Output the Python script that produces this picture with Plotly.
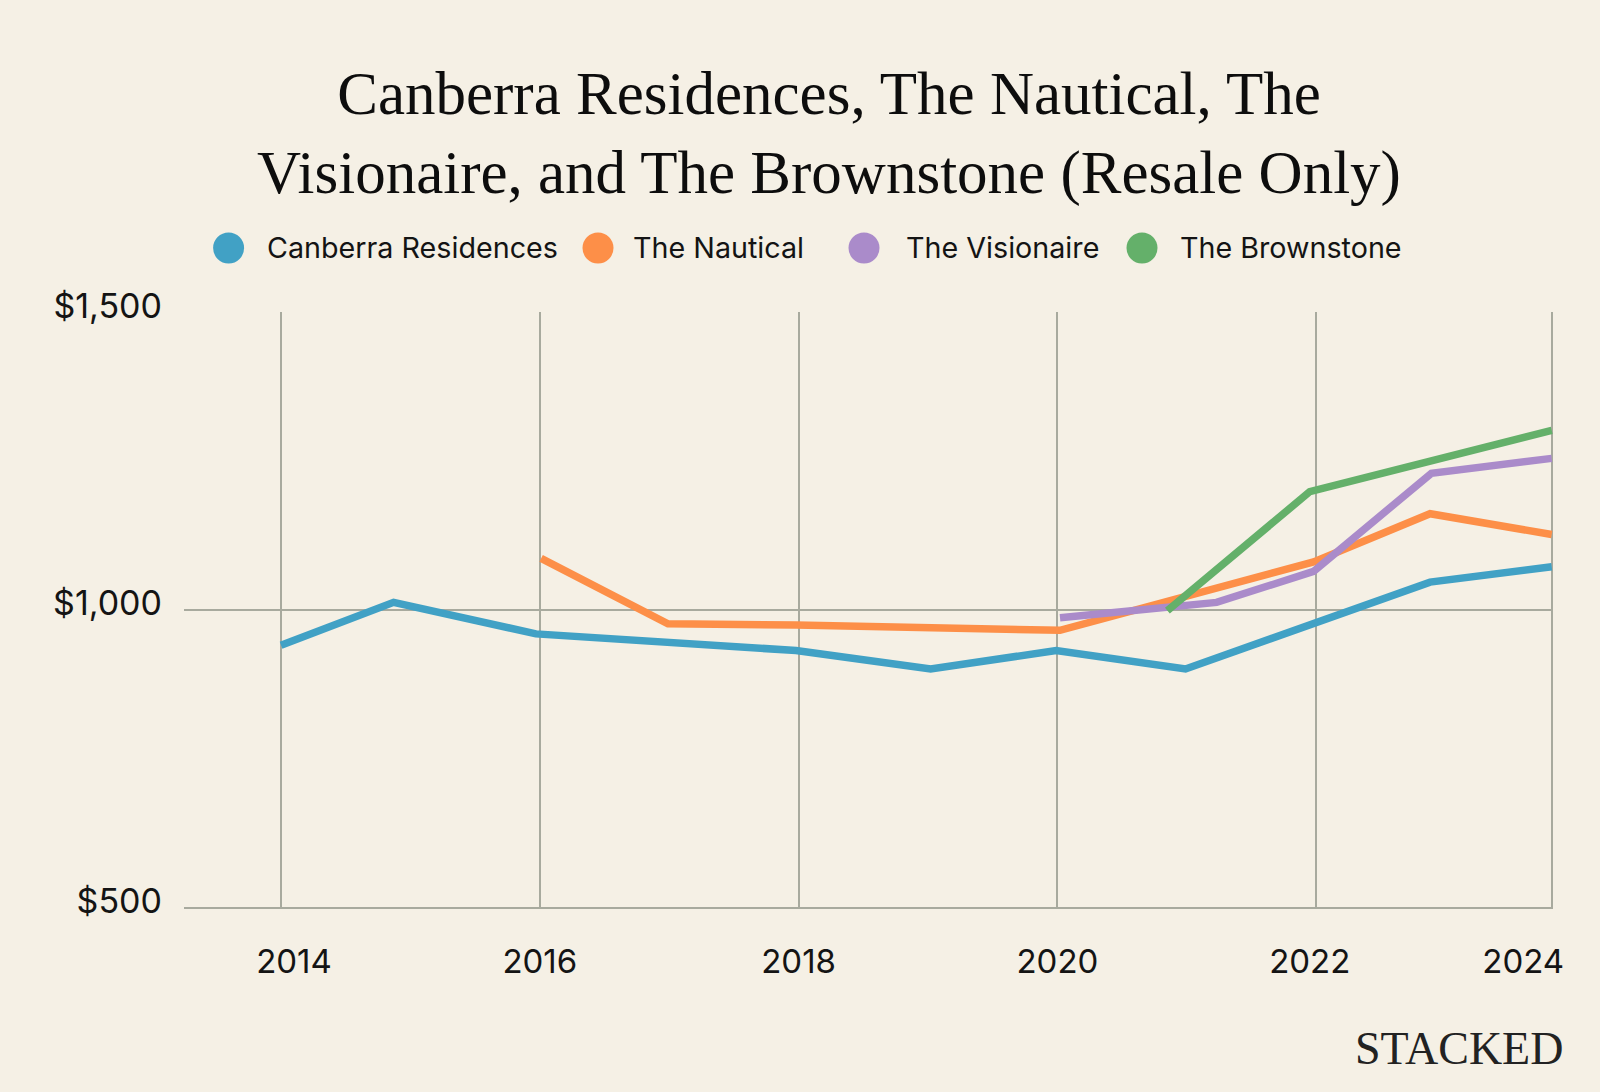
import plotly.graph_objects as go

# ---------------- data ----------------
SERIES = ["Canberra Residences", "The Nautical", "The Visionaire", "The Brownstone"]
COLORS = ["#41a1c5", "#fd8f48", "#aa8bca", "#64b06a"]

canberra_x = [2014.00, 2014.87, 2015.97, 2016.97, 2017.98, 2019.02, 2019.99, 2020.99, 2021.98, 2022.88, 2023.82]
canberra_y = [940, 1012, 959, 945, 931, 900, 931, 900, 976, 1046, 1072]

nautical_x = [2016.01, 2016.99, 2017.98, 2020.02, 2021.98, 2022.88, 2023.82]
nautical_y = [1086, 976, 974, 965, 1080, 1161, 1126]

visionaire_x = [2020.02, 2021.23, 2021.98, 2022.89, 2023.82]
visionaire_y = [986, 1012, 1064, 1229, 1254]

brownstone_x = [2020.85, 2021.95, 2023.82]
brownstone_y = [998, 1198, 1301]

X_GRID = [2014, 2016, 2018, 2020, 2022, 2023.82]
X_TICK_POS = [2014.1, 2016, 2018, 2020, 2021.95, 2023.6]
X_TICK_TEXT = ["2014", "2016", "2018", "2020", "2022", "2024"]
Y_TICKS = [500, 1000, 1500]
Y_TICK_TEXT = ["$500", "$1,000", "$1,500"]

TITLE = "Canberra Residences, The Nautical, The<br>Visionaire, and The Brownstone (Resale Only)"

# ---------------- layout constants ----------------
W, H = 1600, 1092
L, R, T, B = 184, 1553, 312, 907
BG = "#f5f0e5"
GRID = "#a8aa9e"
TXT = "#141414"
SANS = "Inter, Noto Sans, sans-serif"
SERIF = "Liberation Serif, DejaVu Serif, serif"


def px(xp):
    return (xp - L) / (R - L)


def py(yp):
    return (B - yp) / (B - T)


fig = go.Figure()
xs = [canberra_x, nautical_x, visionaire_x, brownstone_x]
ys = [canberra_y, nautical_y, visionaire_y, brownstone_y]
for name, c, x, y in zip(SERIES, COLORS, xs, ys):
    fig.add_trace(go.Scatter(x=x, y=y, name=name, mode="lines",
                             line=dict(color=c, width=7.5), showlegend=False,
                             hoverinfo="x+y+name"))

# manual legend (large circular markers)
legend_circle_px = [228.6, 598, 864, 1142]
legend_text_px = [265, 631, 904, 1178]
legend_y_px = 248
shapes = []
annotations = []
for name, c, cx, tx in zip(SERIES, COLORS, legend_circle_px, legend_text_px):
    shapes.append(dict(type="circle", xref="paper", yref="paper",
                       xsizemode="pixel", ysizemode="pixel",
                       xanchor=px(cx), yanchor=py(legend_y_px),
                       x0=-15.5, x1=15.5, y0=-15.5, y1=15.5,
                       fillcolor=c, line=dict(width=0)))
    annotations.append(dict(text=name, xref="paper", yref="paper",
                            x=px(tx), y=py(legend_y_px), xanchor="left", yanchor="middle",
                            showarrow=False, font=dict(family=SANS, size=28.7, color=TXT)))

annotations.append(dict(text="STACKED", xref="paper", yref="paper",
                        x=px(1565), y=py(1048), xanchor="right", yanchor="middle",
                        showarrow=False, font=dict(family=SERIF, size=46, color="#222222")))

fig.update_layout(
    width=W, height=H,
    margin=dict(l=L, r=W - R, t=T, b=H - B, pad=0),
    paper_bgcolor=BG, plot_bgcolor=BG,
    title=dict(text=TITLE, x=829 / W, xanchor="center", xref="container",
               y=1 - 114 / H, yanchor="top", yref="container",
               font=dict(family=SERIF, size=61, color="#0d0d0d")),
    showlegend=False,
    shapes=shapes,
    annotations=annotations,
    xaxis=dict(range=[2013.25, 2023.83], showgrid=False, zeroline=False,
               tickmode="array", tickvals=X_TICK_POS, ticktext=X_TICK_TEXT,
               ticks="", ticklabelstandoff=24,
               tickfont=dict(family=SANS, size=33, color=TXT),
               showline=True, linecolor=GRID, linewidth=2,
               minor=dict(tickmode="array", tickvals=X_GRID, showgrid=True,
                          gridcolor=GRID, gridwidth=1.5, ticks="")),
    yaxis=dict(range=[500, 1500], tickmode="array", tickvals=Y_TICKS,
               ticktext=Y_TICK_TEXT, showgrid=True, gridcolor=GRID,
               gridwidth=1.5, zeroline=False, ticks="", ticklabelstandoff=21,
               ticklabelshift=-6,
               tickfont=dict(family=SANS, size=34, color=TXT)),
)

fig.write_html("out.html")
